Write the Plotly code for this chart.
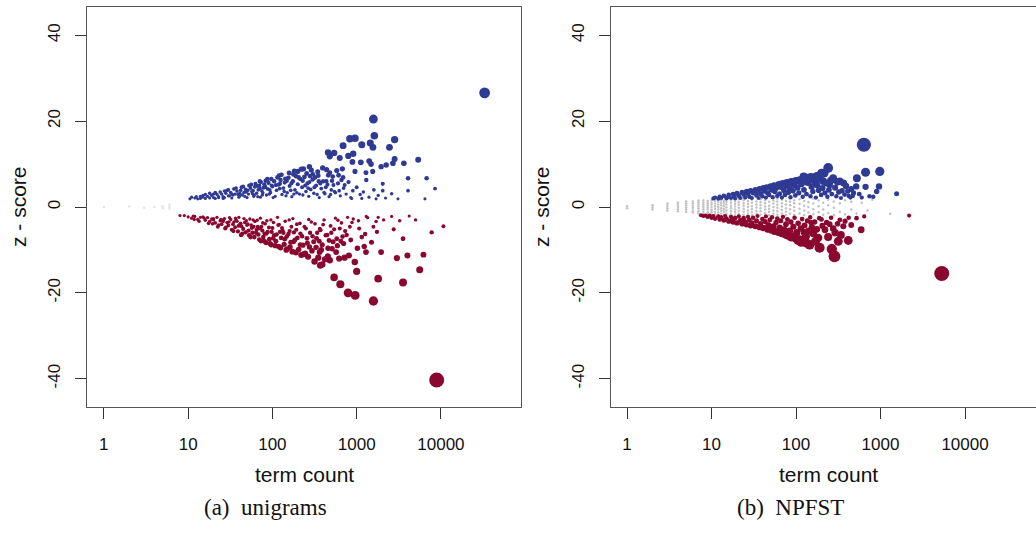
import plotly.graph_objects as go

# term count / z-score pairs
uni_blue = [
    (33000, 26.6), (1580, 20.5), (1620, 16.6), (2820, 15.7), (830, 15.9), (955, 16.0),
    (690, 14.3), (1150, 14.5), (1450, 14.9), (1560, 13.9), (2450, 13.9), (457, 12.7),
    (480, 11.8), (540, 12.6), (795, 11.9), (910, 12.4), (630, 11.4), (890, 10.5),
    (1120, 10.4), (1410, 10.7), (1480, 10.0), (1950, 9.4), (2240, 9.8), (2690, 10.2),
    (2820, 11.2), (3630, 10.2), (5370, 11.0), (1290, 8.0), (1550, 8.3), (955, 8.3),
    (676, 8.9), (690, 6.9), (480, 8.0), (437, 6.0), (355, 6.0), (302, 7.6), (275, 9.4),
    (234, 8.9), (200, 8.3), (178, 7.6), (275, 5.8), (229, 6.1), (148, 6.1), (123, 5.4),
    (98, 5.0), (81, 4.6), (71, 4.3), (59, 3.8), (49, 3.5), (41, 3.2), (34, 2.8), (26, 2.4),
    (20, 2.2), (14, 2.0), (10.5, 1.9), (4070, 6.7), (6760, 6.7), (8510, 4.3), (4070, 3.8),
    (2040, 5.4), (2040, 3.8), (6460, 1.9), (3090, 1.9), (1700, 1.9), (1150, 2.0), (870, 2.0),
    (12, 2.1), (13, 1.9), (15, 2.3), (16, 2.0), (17, 2.5), (18, 2.1), (19, 2.7), (21, 2.0),
    (22, 2.9), (23, 2.4), (25, 3.0), (27, 2.2), (28, 3.2), (30, 2.6), (32, 3.4), (33, 2.1),
    (36, 3.0), (38, 3.7), (40, 2.3), (42, 3.9), (44, 2.8), (46, 3.4), (48, 4.1), (50, 2.2),
    (52, 3.0), (55, 4.4), (57, 3.6), (60, 2.5), (62, 4.7), (65, 3.2), (68, 4.0), (70, 5.0),
    (72, 2.3), (75, 3.7), (78, 4.5), (80, 5.3), (85, 2.8), (88, 4.2), (90, 5.6), (95, 3.4),
    (100, 4.8), (105, 6.0), (108, 2.5), (112, 3.9), (118, 5.2), (125, 6.3), (130, 2.9),
    (135, 4.4), (140, 5.7), (150, 3.3), (155, 6.8), (160, 4.9), (170, 2.4), (175, 6.0),
    (185, 4.0), (190, 7.2), (200, 5.3), (210, 3.0), (215, 6.5), (225, 4.6), (240, 7.0),
    (250, 3.6), (260, 5.5), (270, 2.5), (285, 4.1), (300, 6.4), (310, 3.2), (330, 5.0),
    (350, 7.3), (360, 2.2), (380, 4.3), (400, 6.0), (420, 3.1), (450, 5.2), (470, 2.4),
    (500, 4.0), (520, 7.1), (560, 3.3), (600, 5.5), (640, 2.6), (700, 4.4), (750, 3.0),
    (800, 5.8), (850, 2.2), (900, 3.8), (1000, 4.6), (1100, 2.9), (1200, 3.5), (1300, 6.3),
    (1400, 2.3), (1600, 4.0), (1800, 2.7), (2200, 2.1), (2600, 3.1),
    (11, 2.3), (14, 2.5), (16, 2.9), (20, 3.0), (24, 3.5), (26, 2.0), (29, 3.9), (31, 2.6),
    (35, 4.2), (39, 2.9), (43, 4.6), (47, 2.5), (53, 5.0), (58, 3.1), (63, 5.4), (67, 2.4),
    (73, 5.8), (77, 3.3), (83, 6.1), (92, 3.0), (97, 6.5), (102, 2.2), (115, 6.9), (122, 4.3),
    (128, 7.5), (145, 2.6), (158, 7.9), (165, 3.9), (182, 8.4), (195, 3.3), (220, 8.8),
    (230, 2.8), (255, 7.8), (265, 4.4), (290, 8.6), (320, 6.9), (340, 2.9), (370, 5.5),
    (395, 9.1), (430, 4.6), (460, 7.4), (490, 2.9), (530, 5.1), (580, 8.5), (620, 3.8),
    (660, 6.3),
    (12.5, 2.4), (15, 2.7), (18, 3.2), (21, 3.4), (23, 2.2), (27, 3.7), (30, 4.0), (33, 3.0),
    (37, 4.4), (41, 2.6), (45, 4.8), (51, 3.9), (56, 5.2), (61, 2.8), (66, 4.9), (71, 6.0),
    (76, 2.8), (82, 4.8), (87, 6.5), (93, 4.0), (110, 5.1), (120, 7.3), (138, 3.6), (142, 6.6),
    (168, 5.5), (180, 3.0), (205, 6.9), (245, 5.0), (280, 7.2), (315, 4.6), (345, 8.2),
    (410, 3.4), (440, 8.7), (510, 6.1), (545, 3.6), (610, 7.4), (720, 5.1),
]

uni_red = [
    (8900, -40.3), (1580, -21.9), (960, -20.6), (790, -20.0), (640, -18.0), (540, -16.4),
    (1800, -16.7), (3550, -17.6), (5600, -14.6), (1000, -15.0), (3000, -11.9), (4000, -11.3),
    (6200, -11.1), (1950, -10.5), (1290, -10.5), (1020, -9.6), (810, -11.3), (480, -12.4),
    (390, -13.4), (316, -12.7), (370, -13.6), (245, -10.8), (363, -10.5), (457, -9.6),
    (590, -9.0), (1230, -9.2), (1260, -6.3), (1740, -5.8), (2750, -5.2), (3550, -7.4),
    (7760, -5.9), (10700, -4.5), (3240, -3.2), (2090, -3.0), (1580, -4.6), (1070, -5.0),
    (910, -2.8), (760, -6.5), (830, -4.6), (630, -5.0), (525, -8.1), (447, -6.5), (372, -5.4),
    (309, -8.1), (257, -7.3), (214, -8.8), (178, -8.1), (148, -6.9), (123, -5.8), (102, -7.3),
    (85, -6.2), (71, -5.0), (60, -4.6), (50, -4.2), (42, -3.8), (35, -3.5), (26, -3.1),
    (20, -2.7), (15, -2.3), (11.5, -2.1), (9, -2.0), (8, -2.0), (1300, -2.2), (1800, -2.4),
    (2600, -2.2), (4200, -2.1), (5000, -3.0),
    (10, -2.3), (11, -2.6), (12, -2.2), (13, -2.9), (14, -2.4), (16, -3.1), (17, -2.5),
    (18, -3.4), (19, -2.8), (21, -3.7), (22, -2.4), (24, -3.2), (25, -4.0), (27, -2.7),
    (29, -3.6), (30, -4.3), (32, -2.9), (34, -4.0), (36, -4.7), (38, -3.3), (40, -2.4),
    (43, -4.5), (45, -5.1), (47, -3.6), (52, -5.5), (54, -2.8), (56, -4.2), (58, -6.0),
    (62, -3.4), (65, -5.3), (68, -6.4), (72, -2.6), (74, -4.6), (78, -7.0), (82, -3.9),
    (88, -5.8), (92, -7.5), (96, -3.0), (100, -4.9), (105, -6.6), (110, -8.0), (115, -2.4),
    (120, -4.1), (127, -7.2), (132, -5.5), (138, -8.7), (142, -3.3), (155, -6.3), (162, -9.3),
    (168, -4.6), (175, -2.7), (185, -7.7), (192, -5.3), (205, -9.9), (212, -3.8), (225, -6.8),
    (235, -11.0), (240, -4.6), (260, -8.4), (270, -2.9), (280, -6.0), (295, -10.2), (320, -3.9),
    (335, -7.3), (350, -11.8), (365, -5.1), (390, -8.8), (410, -3.0), (430, -6.6), (455, -11.5),
    (490, -4.4), (510, -9.7), (560, -2.6), (580, -7.4), (620, -12.0), (660, -3.7), (700, -8.5),
    (730, -5.6), (780, -2.4), (850, -7.7), (880, -3.6), (950, -12.8), (1050, -3.2), (1150, -7.0),
    (1350, -2.5), (1500, -8.2), (1700, -3.4),
    (11.8, -2.9), (13.5, -3.3), (15.5, -2.6), (17.5, -3.8), (20, -3.0), (23, -4.2), (26, -3.4),
    (28, -4.8), (31, -2.5), (33, -5.3), (37, -3.0), (39, -5.7), (41, -4.1), (44, -6.2),
    (49, -3.2), (53, -6.6), (57, -4.9), (61, -7.0), (66, -3.1), (70, -7.6), (76, -5.5),
    (80, -8.0), (86, -3.2), (94, -8.5), (98, -5.8), (108, -9.0), (117, -4.2), (125, -9.5),
    (135, -6.0), (150, -9.8), (158, -3.0), (172, -10.4), (180, -5.9), (198, -7.2),
    (220, -11.2), (250, -5.0), (275, -9.3), (290, -3.5), (340, -6.0), (380, -10.0),
    (400, -4.1), (470, -7.8), (540, -5.2), (600, -3.1), (680, -6.9), (720, -11.8),
    (19.5, -3.9), (22.5, -4.6), (24.5, -2.9), (27.5, -5.0), (30.5, -3.5), (34.5, -5.6),
    (36.5, -2.6), (39.5, -4.4), (42.5, -6.5), (46, -2.7), (48, -5.9), (51, -4.0), (55, -7.0),
    (59, -3.0), (64, -6.0), (67, -4.6), (73, -7.9), (77, -3.7), (81, -6.2), (84, -8.3),
    (91, -4.8), (97, -8.8), (103, -3.6), (112, -6.4), (119, -9.2), (130, -4.9), (140, -7.5),
    (146, -10.0), (160, -5.6), (165, -8.2), (190, -10.6), (195, -4.0), (215, -6.2),
    (230, -8.9), (265, -11.6), (300, -6.8), (330, -9.4), (360, -8.0), (420, -12.2),
    (500, -6.0), (570, -10.5), (650, -8.0),
]

uni_grey = [(1, 0.0), (2, 0.1), (3, -0.2), (4, 0.0), (5, 0.2), (5, -0.3), (6, 0.5), (6, -0.4), (6, 0.0)]

np_blue = [
    (635, 14.5), (980, 8.3), (665, 8.1), (240, 9.1), (215, 7.9), (275, 6.7), (330, 6.0),
    (525, 6.7), (515, 4.8), (665, 4.7), (960, 4.8), (1550, 3.1), (740, 2.5), (480, 3.3),
    (365, 5.6), (200, 7.9), (160, 6.7), (123, 7.1), (210, 6.0), (250, 5.2), (290, 4.5),
    (310, 5.8), (350, 3.8), (390, 4.9), (420, 2.6), (450, 4.2), (560, 3.0), (600, 2.2),
    (820, 2.4), (900, 3.6),
    (10.5, 2.0), (11, 2.2), (12, 1.95), (12.5, 2.4), (13, 2.1), (14, 2.6), (15, 2.0),
    (15.5, 2.3), (16, 2.8), (17, 2.1), (18, 3.0), (18.5, 2.5), (19, 2.0), (20, 3.2), (21, 2.6),
    (22, 2.1), (23, 3.4), (24, 2.9), (25, 2.2), (26, 3.6), (27, 3.0), (28, 2.4), (29, 3.8),
    (30, 2.1), (31, 3.3), (33, 4.0), (34, 2.7), (35, 3.6), (36, 2.1), (37, 4.2), (38, 3.1),
    (40, 2.5), (41, 4.4), (42, 3.7), (44, 2.2), (45, 4.6), (46, 3.3), (48, 2.8), (50, 4.8),
    (51, 4.0), (53, 2.3), (55, 5.0), (56, 3.6), (58, 4.4), (60, 2.6), (62, 5.2), (64, 3.1),
    (66, 4.7), (68, 2.2), (70, 5.5), (72, 3.9), (74, 2.8), (77, 5.0), (79, 5.7), (81, 3.4),
    (84, 4.4), (86, 2.3), (89, 5.9), (92, 3.8), (95, 5.2), (98, 2.7), (101, 6.1), (104, 4.5),
    (108, 3.3), (112, 6.3), (116, 5.4), (120, 2.4), (124, 4.0), (128, 6.5), (133, 3.0),
    (138, 5.7), (143, 6.4), (148, 2.5), (153, 4.7), (158, 3.6), (165, 6.0), (172, 2.2),
    (178, 5.1), (185, 3.9), (192, 6.6), (198, 2.8), (206, 4.4), (220, 3.3), (228, 5.6),
    (235, 2.4), (245, 4.0), (258, 6.2), (265, 3.0), (300, 2.5), (320, 3.5), (340, 2.1),
    (375, 2.9), (410, 3.7), (440, 2.2), (470, 2.6),
    (65, 5.3), (75, 5.6), (85, 5.8), (97, 6.0), (106, 6.2), (118, 6.4), (135, 6.8),
    (150, 7.0), (175, 7.2), (185, 6.9),
]

np_red = [
    (5300, -15.5), (285, -11.5), (190, -9.5), (133, -8.4), (316, -8.0), (415, -7.8),
    (290, -6.0), (363, -4.5), (590, -5.3), (183, -7.2), (160, -6.2), (220, -5.3), (126, -6.0),
    (150, -3.6), (200, -2.9), (2180, -2.0), (170, -8.0), (240, -7.0), (265, -9.8), (340, -6.5),
    (250, -4.0), (330, -3.0), (420, -2.5), (450, -4.2),
    (7.5, -1.9), (8, -2.1), (8.5, -2.0), (9, -2.3), (9.5, -2.0), (10, -2.5), (10.5, -2.1),
    (11, -2.7), (12, -2.2), (12.5, -2.9), (13, -2.4), (14, -3.1), (14.5, -2.1), (15, -2.7),
    (16, -3.3), (17, -2.3), (17.5, -2.9), (18, -3.5), (19, -2.6), (20, -3.7), (21, -2.2),
    (22, -3.1), (23, -3.9), (24, -2.6), (25, -3.5), (26, -4.1), (27, -2.3), (28, -3.0),
    (29, -4.3), (30, -3.7), (31, -2.5), (33, -4.5), (34, -3.2), (35, -2.1), (37, -4.7),
    (38, -3.9), (40, -2.8), (41, -4.9), (43, -3.4), (44, -2.2), (46, -5.2), (47, -4.2),
    (49, -3.0), (51, -5.4), (52, -2.4), (54, -4.5), (56, -5.7), (58, -3.6), (60, -2.7),
    (62, -5.9), (64, -4.8), (66, -3.2), (68, -6.2), (70, -2.3), (72, -5.3), (74, -6.4),
    (76, -4.0), (79, -2.9), (82, -6.7), (84, -5.6), (87, -3.5), (90, -7.0), (93, -4.6),
    (96, -2.5), (99, -7.3), (102, -6.0), (106, -3.8), (110, -7.6), (114, -5.0), (118, -2.8),
    (122, -7.9), (126, -4.3), (131, -6.8), (136, -3.2), (141, -5.6), (147, -2.4), (154, -4.7),
    (166, -3.5), (176, -5.2), (188, -2.6), (205, -4.4), (230, -3.6), (260, -2.5), (275, -5.0),
    (310, -3.9), (380, -3.3), (520, -2.6), (640, -2.2),
    (45, -5.0), (55, -5.6), (78, -6.6), (88, -7.1), (105, -7.8), (115, -8.2), (145, -8.8),
]

np_grey = [
    (1, -0.3), (1, 0.2),
    (2, -0.6), (2, -0.1), (2, 0.4),
    (3, -0.8), (3, -0.3), (3, 0.3), (3, 0.8),
    (4, -1.0), (4, -0.5), (4, 0.0), (4, 0.5), (4, 1.0),
    (5, -1.1), (5, -0.6), (5, -0.1), (5, 0.4), (5, 0.9), (5, 1.3),
    (6, -1.3), (6, -0.8), (6, -0.2), (6, 0.3), (6, 0.8), (6, 1.3),
    (7, -1.5), (7, -1.0), (7, -0.4), (7, 0.1), (7, 0.6), (7, 1.1), (7, 1.5),
    (8, -1.6), (8, -1.1), (8, -0.5), (8, 0.0), (8, 0.5), (8, 1.0), (8, 1.5),
    (9, -1.7), (9, -1.2), (9, -0.6), (9, -0.1), (9, 0.4), (9, 0.9), (9, 1.4),
    (10, -1.8), (10, -1.2), (10, -0.7), (10, -0.1), (10, 0.5), (10, 1.0), (10, 1.6),
    (11, -1.7), (11, -1.1), (11, -0.4), (11, 0.2), (11, 0.8), (11, 1.4),
    (12, -1.8), (12, -1.3), (12, -0.6), (12, 0.0), (12, 0.6), (12, 1.2), (12, 1.8),
    (13, -1.6), (13, -0.9), (13, -0.3), (13, 0.4), (13, 1.0), (13, 1.6),
    (14, -1.8), (14, -1.1), (14, -0.5), (14, 0.2), (14, 0.8), (14, 1.4),
    (15, -1.5), (15, -0.8), (15, -0.1), (15, 0.6), (15, 1.2), (15, 1.8),
    (17, -1.7), (17, -1.0), (17, -0.3), (17, 0.3), (17, 1.0), (17, 1.6),
    (19, -1.9), (19, -1.2), (19, -0.6), (19, 0.1), (19, 0.7), (19, 1.3),
    (21, -1.6), (21, -0.9), (21, -0.2), (21, 0.5), (21, 1.1), (21, 1.8),
    (24, -1.8), (24, -1.1), (24, -0.4), (24, 0.3), (24, 0.9), (24, 1.6),
    (27, -1.5), (27, -0.8), (27, 0.0), (27, 0.7), (27, 1.4),
    (30, -1.9), (30, -1.2), (30, -0.5), (30, 0.2), (30, 1.0), (30, 1.7),
    (34, -1.6), (34, -0.9), (34, -0.1), (34, 0.6), (34, 1.3),
    (38, -1.8), (38, -1.0), (38, -0.3), (38, 0.4), (38, 1.1), (38, 1.8),
    (43, -1.4), (43, -0.6), (43, 0.1), (43, 0.9), (43, 1.6),
    (48, -1.9), (48, -1.1), (48, -0.4), (48, 0.3), (48, 1.2),
    (54, -1.6), (54, -0.8), (54, 0.0), (54, 0.8), (54, 1.5),
    (60, -1.8), (60, -1.0), (60, -0.2), (60, 0.5), (60, 1.3), (60, 1.9),
    (68, -1.5), (68, -0.7), (68, 0.1), (68, 0.9), (68, 1.7),
    (76, -1.9), (76, -1.1), (76, -0.3), (76, 0.6), (76, 1.4),
    (85, -1.6), (85, -0.5), (85, 0.4), (85, 1.2), (85, 1.9),
    (95, -1.8), (95, -0.9), (95, 0.0), (95, 0.9), (95, 1.6),
    (110, -1.5), (110, -0.4), (110, 0.7), (110, 1.8),
    (125, -1.9), (125, -0.8), (125, 0.3), (125, 1.4),
    (140, -1.3), (140, 0.0), (140, 1.1),
    (160, -1.7), (160, -0.5), (160, 0.8), (160, 1.9),
    (185, -1.2), (185, 0.2), (185, 1.5),
    (210, -1.8), (210, -0.6), (210, 1.0),
    (240, -1.4), (240, 0.4), (240, 1.7),
    (280, -1.9), (280, -0.2), (280, 1.3),
    (330, -1.1), (330, 0.9), (380, -1.7), (380, 1.6), (450, -0.6), (450, 1.2),
    (520, -1.5), (600, 1.0), (700, -0.8), (800, 1.7), (1300, -1.6),
]

tick_vals = [1, 10, 100, 1000, 10000]
tick_text = ["1", "10", "100", "1000", "10000"]
y_ticks = [-40, -20, 0, 20, 40]
captions = ["(a)  unigrams", "(b)  NPFST"]

BLUE = "#2f3a94"
RED = "#8a0730"
W, H = 1036, 540

fig = go.Figure()


def add_panel(blue, red, grey, grey_col, xa, ya):
    zmax = max(abs(z) for _, z in blue + red)
    for pts, col, fixed in [(grey, grey_col, 2.5), (red, RED, None), (blue, BLUE, None)]:
        xs = [c for c, _ in pts]
        ys = [z for _, z in pts]
        if fixed:
            sizes = fixed
        else:
            sizes = [2.5 + 12.5 * abs(z) / zmax for z in ys]
        fig.add_trace(go.Scatter(x=xs, y=ys, mode="markers", xaxis=xa, yaxis=ya,
                                 marker=dict(color=col, size=sizes, opacity=1, line=dict(width=0)),
                                 showlegend=False, hoverinfo="x+y"))


add_panel(uni_blue, uni_red, uni_grey, "#e4e4e4", "x", "y")
add_panel(np_blue, np_red, np_grey, "#c2c2c2", "x2", "y2")

ydom = [1 - 407 / H, 1 - 7 / H]
axis_font = dict(family="Liberation Sans, Arial, sans-serif", size=17, color="#111")
common_x = dict(type="log", tickvals=tick_vals, ticktext=tick_text, ticks="outside",
                ticklen=11, tickwidth=1.2, tickcolor="#333", showgrid=False, zeroline=False,
                showline=True, linecolor="#555", linewidth=1.4, mirror=True,
                tickfont=axis_font, ticklabelstandoff=10)
common_y = dict(range=[-46.6, 46.6], tickvals=y_ticks, ticktext=[str(v) for v in y_ticks],
                ticks="outside", ticklen=11, tickwidth=1.2, tickcolor="#333", showgrid=False,
                zeroline=False, showline=True, linecolor="#555", linewidth=1.4,
                tickfont=axis_font, tickangle=-90, ticklabelstandoff=8)

fig.update_layout(
    width=W, height=H, margin=dict(l=0, r=0, t=0, b=0),
    paper_bgcolor="white", plot_bgcolor="white",
    xaxis=dict(common_x, domain=[87 / W, 521 / W], range=[-0.2, 4.95], anchor="y"),
    yaxis=dict(common_y, domain=ydom, anchor="x", mirror=True),
    xaxis2=dict(common_x, domain=[611 / W, 1.0], range=[-0.19, 4.84], anchor="y2"),
    yaxis2=dict(common_y, domain=ydom, anchor="x2", mirror=False),
)

title_font = dict(family="Liberation Sans, Arial, sans-serif", size=21, color="#111")
cap_font = dict(family="Liberation Serif, Times New Roman, serif", size=23, color="#111")
for xc, yt_x, cap_x, cap in [(304, 19, 265, captions[0]), (828, 542, 790, captions[1])]:
    fig.add_annotation(x=xc / W, y=1 - 474 / H, xref="paper", yref="paper", text="term count",
                       showarrow=False, font=title_font, xanchor="center", yanchor="middle")
    fig.add_annotation(x=yt_x / W, y=1 - 207 / H, xref="paper", yref="paper", text="z - score",
                       showarrow=False, font=title_font, textangle=-90,
                       xanchor="center", yanchor="middle")
    fig.add_annotation(x=cap_x / W, y=1 - 507 / H, xref="paper", yref="paper", text=cap,
                       showarrow=False, font=cap_font, xanchor="center", yanchor="middle")

# drop the default page margin so the figure sits at the window's top-left corner
fig.write_html("out.html", config={"displayModeBar": False},
               post_script="document.body.style.margin='0';")
